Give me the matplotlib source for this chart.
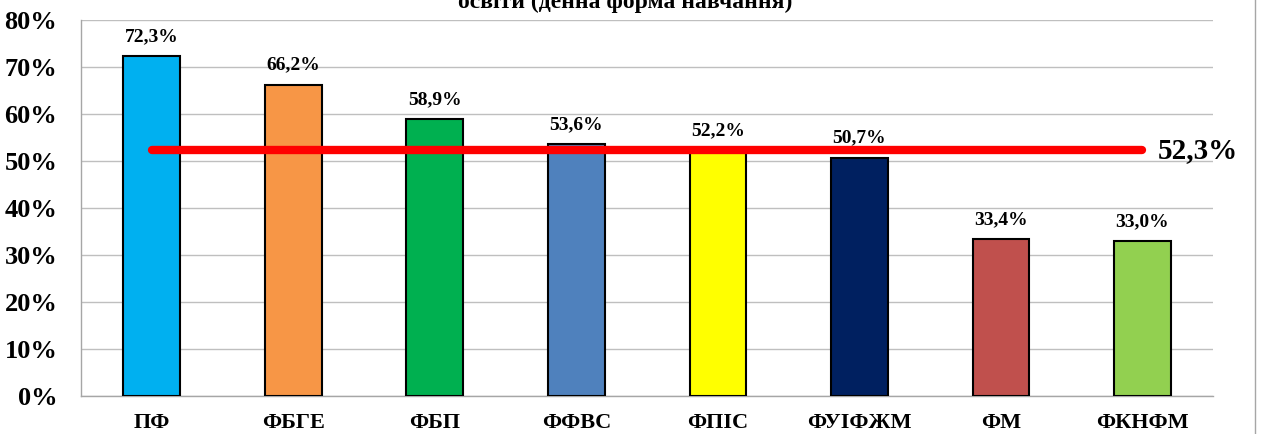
import matplotlib.pyplot as plt
from matplotlib.lines import Line2D
import numpy as np

plt.rcParams['font.family'] = ['Liberation Serif', 'DejaVu Serif']
plt.rcParams['font.weight'] = 'bold'

faculties = ['ПФ', 'ФБГЕ', 'ФБП', 'ФФВС', 'ФПІС', 'ФУІФЖМ', 'ФМ', 'ФКНФМ']
shares = [72.3, 66.2, 58.9, 53.6, 52.2, 50.7, 33.4, 33.0]
average = 52.3
bar_colors = ['#00B0F0', '#F79646', '#00B050', '#4F81BD',
              '#FFFF00', '#002060', '#C0504D', '#92D050']
title = 'освіти (денна форма навчання)'

fig = plt.figure(figsize=(12.65, 4.34), dpi=100)
ax = fig.add_axes([0.064, 0.0876, 0.895, 0.8664])

x = np.arange(len(faculties))
ax.bar(x, shares, width=0.4, color=bar_colors, edgecolor='black', linewidth=1.5, zorder=3)

for xi, v in zip(x, shares):
    ax.annotate(f'{v:.1f}%'.replace('.', ','), (xi, v), xytext=(0, 8),
                textcoords='offset points', ha='center', va='bottom',
                fontsize=14, fontweight='bold')

# average line
ax.plot([x[0], x[-1]], [average, average], color='#FF0000', linewidth=6,
        solid_capstyle='round', zorder=4)
ax.annotate(f'{average:.1f}%'.replace('.', ','), (x[-1], average), xytext=(11, 0),
            textcoords='offset points', ha='left', va='center',
            fontsize=21, fontweight='bold', annotation_clip=False)

ax.set_xlim(-0.5, len(faculties) - 0.5)
ax.set_ylim(0, 80)
ax.set_yticks(np.arange(0, 81, 10))
ax.set_yticklabels([f'{t}%' for t in range(0, 81, 10)], fontsize=19, fontweight='bold')
ax.set_xticks(x)
ax.set_xticklabels(faculties, fontsize=16, fontweight='bold')
ax.tick_params(length=0, pad=17)
ax.tick_params(axis='x', pad=12)

ax.yaxis.grid(True, color='#BFBFBF', linewidth=1, zorder=0)
for s in ['top', 'right']:
    ax.spines[s].set_visible(False)
for s in ['left', 'bottom']:
    ax.spines[s].set_color('#A6A6A6')
    ax.spines[s].set_linewidth(1)

fig.text(0.494, 0.995, title, ha='center', va='center', fontsize=17, fontweight='bold')
fig.add_artist(Line2D([0.992, 0.992], [0, 1], color='#A6A6A6', linewidth=1,
                      transform=fig.transFigure))

fig.savefig('out.png', dpi=100)
